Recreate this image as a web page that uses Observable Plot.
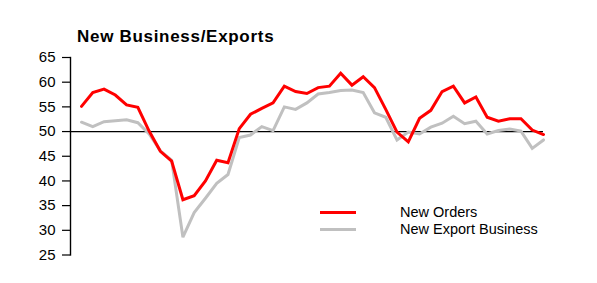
<!DOCTYPE html>
<html><head><meta charset="utf-8">
<script src="https://cdn.jsdelivr.net/npm/d3@7"></script>
<script src="https://cdn.jsdelivr.net/npm/@observablehq/plot@0.6"></script>
<style>
body{margin:0;background:#fff;}
#wrap{position:relative;width:597px;height:283px;font-family:"Liberation Sans",Arial,sans-serif;color:#000;}
#chart{position:absolute;left:0;top:0;}
#title{position:absolute;left:77px;top:27.5px;font-size:17px;line-height:17px;font-weight:bold;letter-spacing:0.7px;white-space:nowrap;}
.leg{position:absolute;left:320px;width:36px;height:3px;}
.legt{position:absolute;left:400px;font-size:14.5px;line-height:14.5px;white-space:nowrap;}
</style>
</head><body>
<div id="wrap">
  <div id="chart"></div>
  <div id="title"></div>
  <div id="legend"></div>
</div>
<script>
const title = "New Business/Exports";
const seriesNames = ["New Orders", "New Export Business"];
const seriesColors = ["#ff0000", "#c0c0c0"];
const yTicks = [25, 30, 35, 40, 45, 50, 55, 60, 65];
const newOrders = [55.1, 57.9, 58.6, 57.4, 55.4, 54.9, 50.1, 46.0, 44.0, 36.2, 37.0, 40.0, 44.2, 43.7, 50.6, 53.5, 54.7, 55.8, 59.2, 58.1, 57.7, 58.9, 59.2, 61.8, 59.4, 61.1, 58.9, 54.5, 49.9, 47.9, 52.7, 54.3, 58.1, 59.2, 55.8, 57.0, 52.9, 52.1, 52.6, 52.6, 50.3, 49.4];
const newExport = [51.9, 51.0, 52.0, 52.2, 52.4, 51.8, 49.5, 46.1, 44.2, 28.6, 33.6, 36.5, 39.5, 41.3, 48.8, 49.3, 51.0, 50.2, 55.0, 54.5, 55.8, 57.6, 57.9, 58.3, 58.4, 57.9, 53.8, 52.9, 48.3, 49.9, 49.5, 50.9, 51.7, 53.1, 51.6, 52.1, 49.5, 50.2, 50.5, 50.1, 46.6, 48.3];

const data = [];
[newOrders, newExport].forEach((arr, s) => arr.forEach((v, i) => data.push({i, v, s: seriesNames[s]})));

const chart = Plot.plot({
  width: 597, height: 283,
  marginLeft: 70, marginRight: 54, marginTop: 57, marginBottom: 28.5,
  x: {domain: [0, newOrders.length - 1], insetLeft: 11, axis: null},
  y: {domain: [25, 65]},
  color: {domain: seriesNames, range: seriesColors},
  style: {fontFamily: '"Liberation Sans", Arial, sans-serif', fontSize: "15px", color: "#000", background: "#fff"},
  marks: [
    Plot.axisY({ticks: yTicks, tickSize: 8, tickPadding: 7, label: null, fontSize: 15, stroke: "#000", strokeWidth: 1.2}),
    Plot.frame({anchor: "left", stroke: "#000", strokeWidth: 1.4}),
    Plot.ruleY([50], {stroke: "#000", strokeWidth: 1.2}),
    Plot.line(data.filter(d => d.s === seriesNames[1]), {x: "i", y: "v", stroke: "s", strokeWidth: 3, strokeLinejoin: "miter", strokeMiterlimit: 3}),
    Plot.line(data.filter(d => d.s === seriesNames[0]), {x: "i", y: "v", stroke: "s", strokeWidth: 3, strokeLinejoin: "miter", strokeMiterlimit: 3})
  ]
});
document.getElementById("chart").appendChild(chart);
document.getElementById("title").textContent = title;

const legend = document.getElementById("legend");
const legTops = [210.5, 227.5];
seriesNames.forEach((name, k) => {
  const sw = document.createElement("div");
  sw.className = "leg";
  sw.style.top = legTops[k] + "px";
  sw.style.background = seriesColors[k];
  legend.appendChild(sw);
  const t = document.createElement("div");
  t.className = "legt";
  t.style.top = (legTops[k] - 6) + "px";
  t.textContent = name;
  legend.appendChild(t);
});
</script>
</body></html>
